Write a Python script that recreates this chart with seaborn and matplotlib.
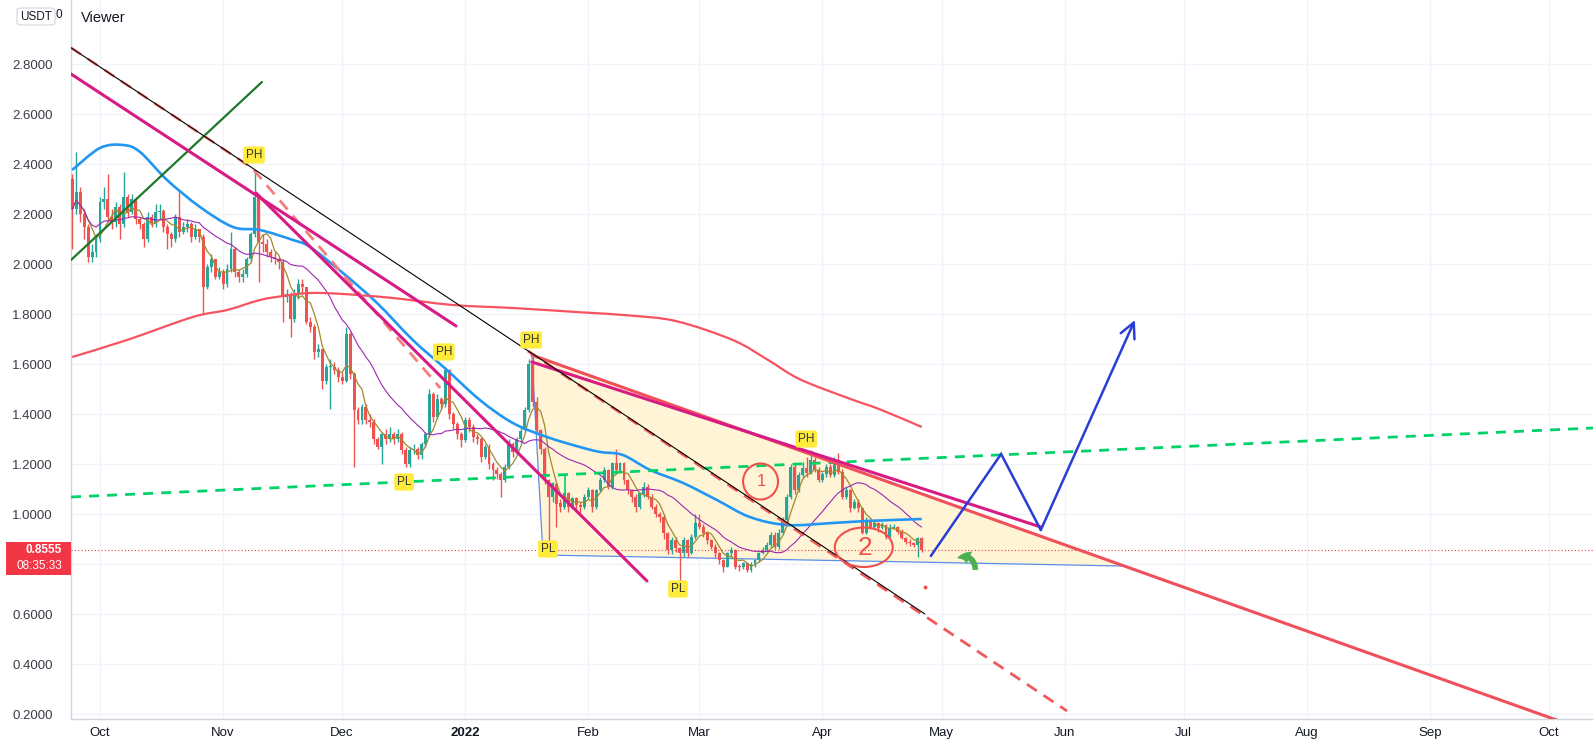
import datetime as dt
import numpy as np
import pandas as pd
import matplotlib
matplotlib.use("Agg")
import matplotlib.pyplot as plt
import seaborn as sns
from matplotlib.patches import Ellipse, Polygon, Rectangle, FancyBboxPatch, FancyArrowPatch, PathPatch
from matplotlib.path import Path

# ---------------- data ----------------
START = dt.date(2021, 9, 24)
first_open = 2.34
close = [
    2.22, 2.29, 2.20, 2.15, 2.03, 2.05, 2.10,
    2.25, 2.26, 2.19, 2.17, 2.23, 2.16, 2.27, 2.21, 2.26, 2.18,
    2.16, 2.10, 2.19, 2.165, 2.21, 2.215, 2.15, 2.12, 2.10, 2.19,
    2.13, 2.15, 2.16, 2.11, 2.14, 2.11, 1.91, 1.99, 2.02, 1.95, 1.97,
    1.92, 1.98, 2.06, 1.97, 1.95, 1.96, 2.02, 2.12, 2.27, 2.09,
    2.08, 2.05, 2.03, 2.02, 2.01, 1.87, 1.88, 1.78, 1.88, 1.92,
    1.91, 1.77, 1.75, 1.65, 1.66, 1.535, 1.59, 1.59, 1.575, 1.55,
    1.535, 1.72, 1.56, 1.415, 1.375, 1.43, 1.375, 1.37, 1.30, 1.27,
    1.32, 1.30, 1.32, 1.30, 1.32, 1.256, 1.20, 1.256, 1.26, 1.236,
    1.28, 1.32, 1.48, 1.39, 1.46, 1.44, 1.575, 1.40, 1.36, 1.32, 1.296,
    1.375, 1.35, 1.31, 1.30, 1.23, 1.27, 1.20, 1.176, 1.16, 1.136,
    1.19, 1.28, 1.25, 1.30, 1.335, 1.415, 1.60, 1.45, 1.336, 1.26,
    1.136, 1.07, 1.123, 1.043, 1.03, 1.083, 1.03, 1.063, 1.037, 1.03, 1.07,
    1.096, 1.03, 1.096, 1.136, 1.176, 1.11, 1.203, 1.176, 1.203, 1.136,
    1.096, 1.07, 1.03, 1.083, 1.11, 1.07, 1.03, 1.003, 0.99, 0.924,
    0.857, 0.897, 0.864, 0.844, 0.897, 0.844, 0.91, 0.964,
    0.95, 0.924, 0.897, 0.871, 0.844, 0.817, 0.791, 0.844, 0.857, 0.791,
    0.79, 0.804, 0.778, 0.80, 0.817, 0.845, 0.858, 0.878, 0.918, 0.87,
    0.925, 0.978, 1.07, 1.19, 1.097, 1.157, 1.183, 1.163, 1.216, 1.177, 1.137,
    1.16, 1.19, 1.157, 1.216, 1.17, 1.07, 1.097, 1.024, 1.05, 1.024,
    0.925, 0.978, 0.951, 0.964, 0.944, 0.958, 0.911, 0.944, 0.951, 0.931,
    0.905, 0.891, 0.885, 0.878, 0.905, 0.8555,
]
high = [
    2.36, 2.45, 2.31, 2.22, 2.16, 2.08, 2.12,
    2.27, 2.31, 2.36, 2.22, 2.25, 2.24, 2.37, 2.28, 2.28, 2.27,
    2.19, 2.17, 2.21, 2.20, 2.24, 2.24, 2.22, 2.16, 2.13, 2.20,
    2.29, 2.17, 2.18, 2.17, 2.16, 2.14, 2.12, 2.00, 2.04, 2.02, 1.99,
    1.98, 2.00, 2.13, 2.07, 1.98, 1.98, 2.03, 2.13, 2.37, 2.28,
    2.12, 2.10, 2.06, 2.05, 2.03, 2.02, 1.90, 1.89, 1.90, 1.94,
    1.94, 1.91, 1.79, 1.76, 1.68, 1.66, 1.60, 1.62, 1.61, 1.59,
    1.57, 1.75, 1.73, 1.57, 1.43, 1.44, 1.44, 1.40, 1.38, 1.31,
    1.33, 1.34, 1.35, 1.33, 1.34, 1.33, 1.27, 1.27, 1.28, 1.27,
    1.29, 1.33, 1.50, 1.49, 1.48, 1.47, 1.59, 1.58, 1.41, 1.37, 1.33,
    1.39, 1.39, 1.36, 1.32, 1.31, 1.28, 1.28, 1.21, 1.19, 1.17,
    1.20, 1.30, 1.29, 1.31, 1.35, 1.43, 1.62, 1.64, 1.47, 1.34,
    1.27, 1.14, 1.13, 1.13, 1.06, 1.09, 1.09, 1.07, 1.07, 1.05, 1.08,
    1.11, 1.10, 1.10, 1.15, 1.19, 1.18, 1.21, 1.26, 1.21, 1.21,
    1.14, 1.10, 1.08, 1.09, 1.13, 1.12, 1.08, 1.04, 1.01, 1.00,
    0.93, 0.91, 0.91, 0.87, 0.91, 0.90, 0.92, 1.00,
    1.00, 0.96, 0.93, 0.90, 0.88, 0.85, 0.82, 0.85, 0.87, 0.86,
    0.80, 0.81, 0.81, 0.81, 0.82, 0.85, 0.87, 0.89, 0.93, 0.93,
    0.94, 0.99, 1.08, 1.20, 1.20, 1.17, 1.21, 1.23, 1.256, 1.23, 1.19,
    1.17, 1.20, 1.20, 1.23, 1.243, 1.18, 1.11, 1.10, 1.06, 1.06,
    1.03, 0.99, 0.98, 0.97, 0.97, 0.97, 0.96, 0.96, 0.96, 0.955,
    0.94, 0.91, 0.90, 0.89, 0.91, 0.91,
]
low = [
    2.06, 2.20, 2.17, 2.10, 2.01, 2.01, 2.03,
    2.09, 2.22, 2.17, 2.14, 2.15, 2.10, 2.15, 2.19, 2.20, 2.16,
    2.14, 2.07, 2.09, 2.15, 2.15, 2.18, 2.13, 2.06, 2.07, 2.09,
    2.11, 2.12, 2.13, 2.09, 2.10, 2.09, 1.80, 1.90, 1.97, 1.94, 1.94,
    1.90, 1.91, 1.97, 1.95, 1.93, 1.93, 1.95, 2.01, 2.11, 1.93,
    2.05, 2.03, 2.01, 2.00, 1.98, 1.77, 1.85, 1.71, 1.77, 1.86,
    1.88, 1.76, 1.73, 1.62, 1.63, 1.50, 1.52, 1.42, 1.56, 1.53,
    1.52, 1.53, 1.54, 1.19, 1.36, 1.36, 1.36, 1.35, 1.28, 1.26,
    1.20, 1.28, 1.29, 1.28, 1.29, 1.24, 1.19, 1.19, 1.24, 1.22,
    1.22, 1.27, 1.31, 1.37, 1.38, 1.42, 1.43, 1.38, 1.34, 1.30, 1.27,
    1.29, 1.33, 1.29, 1.28, 1.21, 1.22, 1.18, 1.136, 1.14, 1.07,
    1.13, 1.18, 1.23, 1.24, 1.29, 1.33, 1.41, 1.43, 1.32, 1.24,
    1.12, 0.89, 1.05, 0.95, 1.01, 1.02, 1.01, 1.02, 1.02, 1.00, 1.02,
    1.06, 1.01, 1.02, 1.09, 1.13, 1.10, 1.10, 1.16, 1.17, 1.12,
    1.08, 1.05, 1.01, 1.02, 1.07, 1.06, 1.02, 0.99, 0.97, 0.90,
    0.84, 0.84, 0.85, 0.725, 0.83, 0.83, 0.84, 0.90,
    0.94, 0.91, 0.88, 0.86, 0.83, 0.80, 0.77, 0.79, 0.83, 0.78,
    0.775, 0.78, 0.77, 0.77, 0.79, 0.81, 0.84, 0.85, 0.87, 0.86,
    0.86, 0.92, 0.97, 1.06, 1.08, 1.09, 1.15, 1.15, 1.16, 1.17, 1.13,
    1.13, 1.15, 1.15, 1.15, 1.16, 1.06, 1.06, 1.01, 1.02, 1.01,
    0.92, 0.92, 0.94, 0.94, 0.93, 0.94, 0.90, 0.91, 0.94, 0.92,
    0.90, 0.88, 0.875, 0.87, 0.83, 0.85,
]

# indicator lines (day index from START, price)
ma50_day = [0, 7.0, 12.8, 17.1, 23.9, 32.2, 40.5, 47.3, 55.6, 59.9, 68.2, 76.8, 85.8,
            94.4, 102.7, 111.0, 119.6, 127.9, 133.0, 138.7, 145.6, 153.9, 162.4,
            170.7, 180.1, 191.6, 200.2, 214.0]
ma50_val = [2.377, 2.465, 2.477, 2.449, 2.337, 2.229, 2.149, 2.137, 2.097, 2.069, 1.965,
            1.845, 1.697, 1.577, 1.457, 1.365, 1.309, 1.269, 1.249, 1.237, 1.177,
            1.125, 1.057, 0.989, 0.957, 0.965, 0.973, 0.981]
ma200_day = [0, 13.8, 30.4, 39.0, 47.3, 53.2, 59.9, 68.2, 80.8, 95.9, 111.0, 127.9,
             140.5, 152.3, 166.4, 175.0, 183.3, 195.9, 203.4, 214.0]
ma200_val = [1.629, 1.697, 1.789, 1.817, 1.857, 1.873, 1.885, 1.881, 1.865, 1.837,
             1.825, 1.808, 1.795, 1.772, 1.697, 1.620, 1.540, 1.462, 1.420, 1.349]

# drawings (day index, price)
black_line = ([-0.3, 214.8], [2.866, 0.601])
red_dash_a = ([-0.3, 45.3, 92.7], [2.866, 2.385, 1.505])
red_dash_b = ([114.8, 250.6], [1.653, 0.213])
magenta_a = ([-0.3, 96.7], [2.761, 1.753])
magenta_b = ([46.3, 144.8], [2.285, 0.733])
magenta_c = ([115.8, 244.0], [1.609, 0.949])
red_trend = ([115.8, 383.1], [1.637, 0.125])
green_solid = ([-0.3, 47.8], [2.017, 2.729])
green_dash = ([-0.3, 383.1], [1.069, 1.345])
triangle_day = [115.8, 118.6, 264.7]
triangle_val = [1.633, 0.837, 0.793]
blue_path_day = [216.3, 234.0, 244.0, 267.7]
blue_path_val = [0.833, 1.241, 0.937, 1.777]
green_arrow_day = [227.6, 222.4]   # tail, head
green_arrow_val = [0.768, 0.822]
last_price = 0.8555

pivot_text = ["PH", "PH", "PH", "PH", "PL", "PL", "PL"]
pivot_day = [45.8, 93.6, 115.6, 184.9, 83.6, 119.8, 152.6]
pivot_val = [2.437, 1.649, 1.697, 1.301, 1.129, 0.861, 0.701]

month_dates = [dt.date(2021, 10, 1), dt.date(2021, 11, 1), dt.date(2021, 12, 1),
               dt.date(2022, 1, 1), dt.date(2022, 2, 1), dt.date(2022, 3, 1),
               dt.date(2022, 4, 1), dt.date(2022, 5, 1), dt.date(2022, 6, 1),
               dt.date(2022, 7, 1), dt.date(2022, 8, 1), dt.date(2022, 9, 1),
               dt.date(2022, 10, 1)]
month_labels = ["Oct", "Nov", "Dec", "2022", "Feb", "Mar", "Apr", "May", "Jun",
                "Jul", "Aug", "Sep", "Oct"]
price_ticks = [0.2, 0.4, 0.6, 0.8, 1.0, 1.2, 1.4, 1.6, 1.8, 2.0, 2.2, 2.4, 2.6, 2.8]
hidden_tick = 0.8   # covered by the last-price badge in the reference

# ---------------- figure ----------------
sns.set_theme(style="white")
plt.rcParams['font.family'] = ['Liberation Sans', 'DejaVu Sans']

W, H = 1593, 748
fig = plt.figure(figsize=(W / 100, H / 100), dpi=100)
fig.patch.set_facecolor("white")
ax = fig.add_axes([71 / W, 29 / H, 1 - 71 / W, 719 / H])
ax.set_facecolor("white")
ax.set_xlim(-0.3, 383.1)
ax.set_ylim(0.181, 3.057)

df = pd.DataFrame({"day": np.arange(len(close)), "close": close, "high": high, "low": low})
df["open"] = [first_open] + close[:-1]
df["high"] = np.maximum(df["high"], df[["open", "close"]].max(axis=1))
df["low"] = np.minimum(df["low"], df[["open", "close"]].min(axis=1))
df["ma_fast"] = df["close"].rolling(5, min_periods=1).mean()
df["ma20"] = df["close"].rolling(20, min_periods=1).mean()


def smooth_path(xs, ys):
    """Catmull-Rom curve through the given points, as Bezier path."""
    P = np.column_stack([xs, ys]).astype(float)
    verts = [P[0]]
    codes = [Path.MOVETO]
    n = len(P)
    for k in range(n - 1):
        p0 = P[k - 1] if k > 0 else P[k]
        p1, p2 = P[k], P[k + 1]
        p3 = P[k + 2] if k + 2 < n else P[k + 1]
        c1 = p1 + (p2 - p0) / 6.0
        c2 = p2 - (p3 - p1) / 6.0
        verts += [c1, c2, p2]
        codes += [Path.CURVE4] * 3
    return Path(verts, codes)


# grid
mt = [(d - START).days for d in month_dates]
for x in mt:
    ax.axvline(x, color="#f0f3fa", lw=1, zorder=0)
for y in price_ticks:
    ax.axhline(y, color="#f0f3fa", lw=1, zorder=0)

# triangle
tri = Polygon(list(zip(triangle_day, triangle_val)), closed=True, facecolor="#fff5d6",
              edgecolor="none", zorder=1)
ax.add_patch(tri)
ax.plot(triangle_day[:2], triangle_val[:2], color="#5b8ee6", lw=0.9, zorder=2)
ax.plot(triangle_day[1:], triangle_val[1:], color="#5b8ee6", lw=0.9, zorder=2)

# candles
up = df["close"] >= df["open"]
cols = np.where(up, "#26a69a", "#ef5350")
body_lo = df[["open", "close"]].min(axis=1)
body_h = np.maximum((df["close"] - df["open"]).abs(), 0.004)
ax.vlines(df["day"], df["low"], df["high"], colors=cols, lw=1.0, zorder=3)
ax.bar(df["day"], body_h, bottom=body_lo, width=0.74, color=cols, linewidth=0, zorder=4)

# moving averages
sns.lineplot(x=df["day"], y=df["ma_fast"], ax=ax, color="#a08a2c", lw=0.9, zorder=5)
sns.lineplot(x=df["day"], y=df["ma20"], ax=ax, color="#9c27b0", lw=0.8, zorder=5)
ax.add_patch(PathPatch(smooth_path(ma50_day, ma50_val), fill=False, edgecolor="#2196f3",
                       lw=1.9, zorder=5))
ax.add_patch(PathPatch(smooth_path(ma200_day, ma200_val), fill=False, edgecolor="#f7525f",
                       lw=1.6, zorder=5))

# price line
ax.axhline(last_price, color="#f23645", lw=0.8, ls=(0, (1, 2)), zorder=5)

# drawings
ax.plot(*green_dash, color="#00d26a", lw=2.0, ls=(0, (3.6, 2.9)), zorder=6)
ax.plot([124.1, 124.1], [1.157, 1.08], color="#00d26a", lw=1.2, zorder=6)
ax.plot(*green_solid, color="#1b7a2a", lw=1.6, zorder=6)
ax.plot(*black_line, color="#000000", lw=0.8, zorder=7)
ax.plot(*red_dash_a, color="#f77c7c", lw=2.0, ls=(0, (4.3, 2.9)), zorder=6)
ax.plot(*red_dash_b, color="#f05a5a", lw=2.0, ls=(0, (4.3, 2.9)), zorder=6)
ax.plot(*magenta_a, color="#d81b84", lw=2.2, zorder=6)
ax.plot(*magenta_b, color="#d81b84", lw=2.2, zorder=6)
ax.plot(*red_trend, color="#f0505a", lw=2.2, zorder=6)
ax.plot(*magenta_c, color="#d81b84", lw=2.2, zorder=6)

# blue projected path
ax.plot(blue_path_day[:3], blue_path_val[:3], color="#2a3ed6", lw=1.8, zorder=8,
        solid_capstyle="round", solid_joinstyle="miter")
ax.annotate("", xy=(blue_path_day[3], blue_path_val[3]),
            xytext=(blue_path_day[2], blue_path_val[2]),
            arrowprops=dict(arrowstyle="->,head_length=0.9,head_width=0.45",
                            color="#2a3ed6", lw=1.8, shrinkA=0, shrinkB=0), zorder=8)

# green curved arrow (pointing left)
arr = FancyArrowPatch((green_arrow_day[0], green_arrow_val[0]),
                      (green_arrow_day[1], green_arrow_val[1]),
                      connectionstyle="arc3,rad=0.7",
                      arrowstyle="simple,head_length=0.9,head_width=1.0,tail_width=0.4",
                      mutation_scale=9, facecolor="#4caf50", edgecolor="#4caf50",
                      lw=0.5, zorder=8)
ax.add_patch(arr)

# hand-drawn circles
ax.add_patch(Ellipse((173.4, 1.131), 8.8, 0.144, fill=False, edgecolor="#f0504a", lw=1.5, zorder=8))
ax.text(173.6, 1.13, "1", color="#f0504a", fontsize=12, ha="center", va="center", zorder=8)
ax.add_patch(Ellipse((199.4, 0.868), 14.6, 0.158, fill=False, edgecolor="#f0504a", lw=1.5, zorder=8))
ax.text(199.8, 0.866, "2", color="#f0504a", fontsize=19, ha="center", va="center", zorder=8)
ax.plot([214.8], [0.709], marker="o", ms=1.8, color="#f0504a", zorder=8)

# pivot labels
for t, d, v in zip(pivot_text, pivot_day, pivot_val):
    ax.text(d, v, t, fontsize=8.5, color="#333333", ha="center", va="center", zorder=9,
            bbox=dict(boxstyle="round,pad=0.22,rounding_size=0.2", fc="#ffeb3b", ec="none"))

# axes styling
ax.set_xticks(mt)
ax.set_xticklabels(month_labels)
for lbl in ax.get_xticklabels():
    lbl.set_fontsize(9.5)
    lbl.set_color("#131722")
    if lbl.get_text() == "2022":
        lbl.set_fontweight("bold")
ax.set_yticks(price_ticks)
ax.set_yticklabels(["" if abs(v - hidden_tick) < 1e-9 else f"{v:.4f}" for v in price_ticks])
ax.tick_params(axis="y", length=0, pad=13, labelsize=9.5, labelcolor="#3a3d47")
ax.tick_params(axis="x", length=0, pad=6)
ax.set_xlabel("")
ax.set_ylabel("")
for s in ["top", "right"]:
    ax.spines[s].set_visible(False)
for s in ["left", "bottom"]:
    ax.spines[s].set_color("#d1d4dc")
    ax.spines[s].set_linewidth(1)


# header / price box
def fx(x):
    return x / W


def fy(y):
    return 1 - y / H


fig.patches.append(Rectangle((fx(6), fy(575)), 65 / W, 33 / H, transform=fig.transFigure,
                             facecolor="#f23645", edgecolor="none", zorder=5))
fig.text(fx(62), fy(550), f"{last_price:.4f}", color="white", fontsize=8.5, ha="right",
         va="center", fontweight="bold", zorder=6)
fig.text(fx(62), fy(566), "08:35:33", color="white", fontsize=8.5, ha="right", va="center", zorder=6)
fig.patches.append(FancyBboxPatch((fx(17), fy(25)), 38 / W, 17 / H, boxstyle="round,pad=0,rounding_size=0.003",
                                  transform=fig.transFigure, facecolor="white",
                                  edgecolor="#d1d4dc", lw=0.8, zorder=5))
fig.text(fx(36), fy(16.5), "USDT", fontsize=8.5, color="#131722", ha="center", va="center", zorder=6)
fig.text(fx(58.5), fy(15), "0", fontsize=8.5, color="#131722", ha="center", va="center", zorder=6)
fig.text(fx(81), fy(18), "Viewer", fontsize=10.5, color="#131722", ha="left", va="center", zorder=6)

fig.savefig("out.png", dpi=100, facecolor="white")
